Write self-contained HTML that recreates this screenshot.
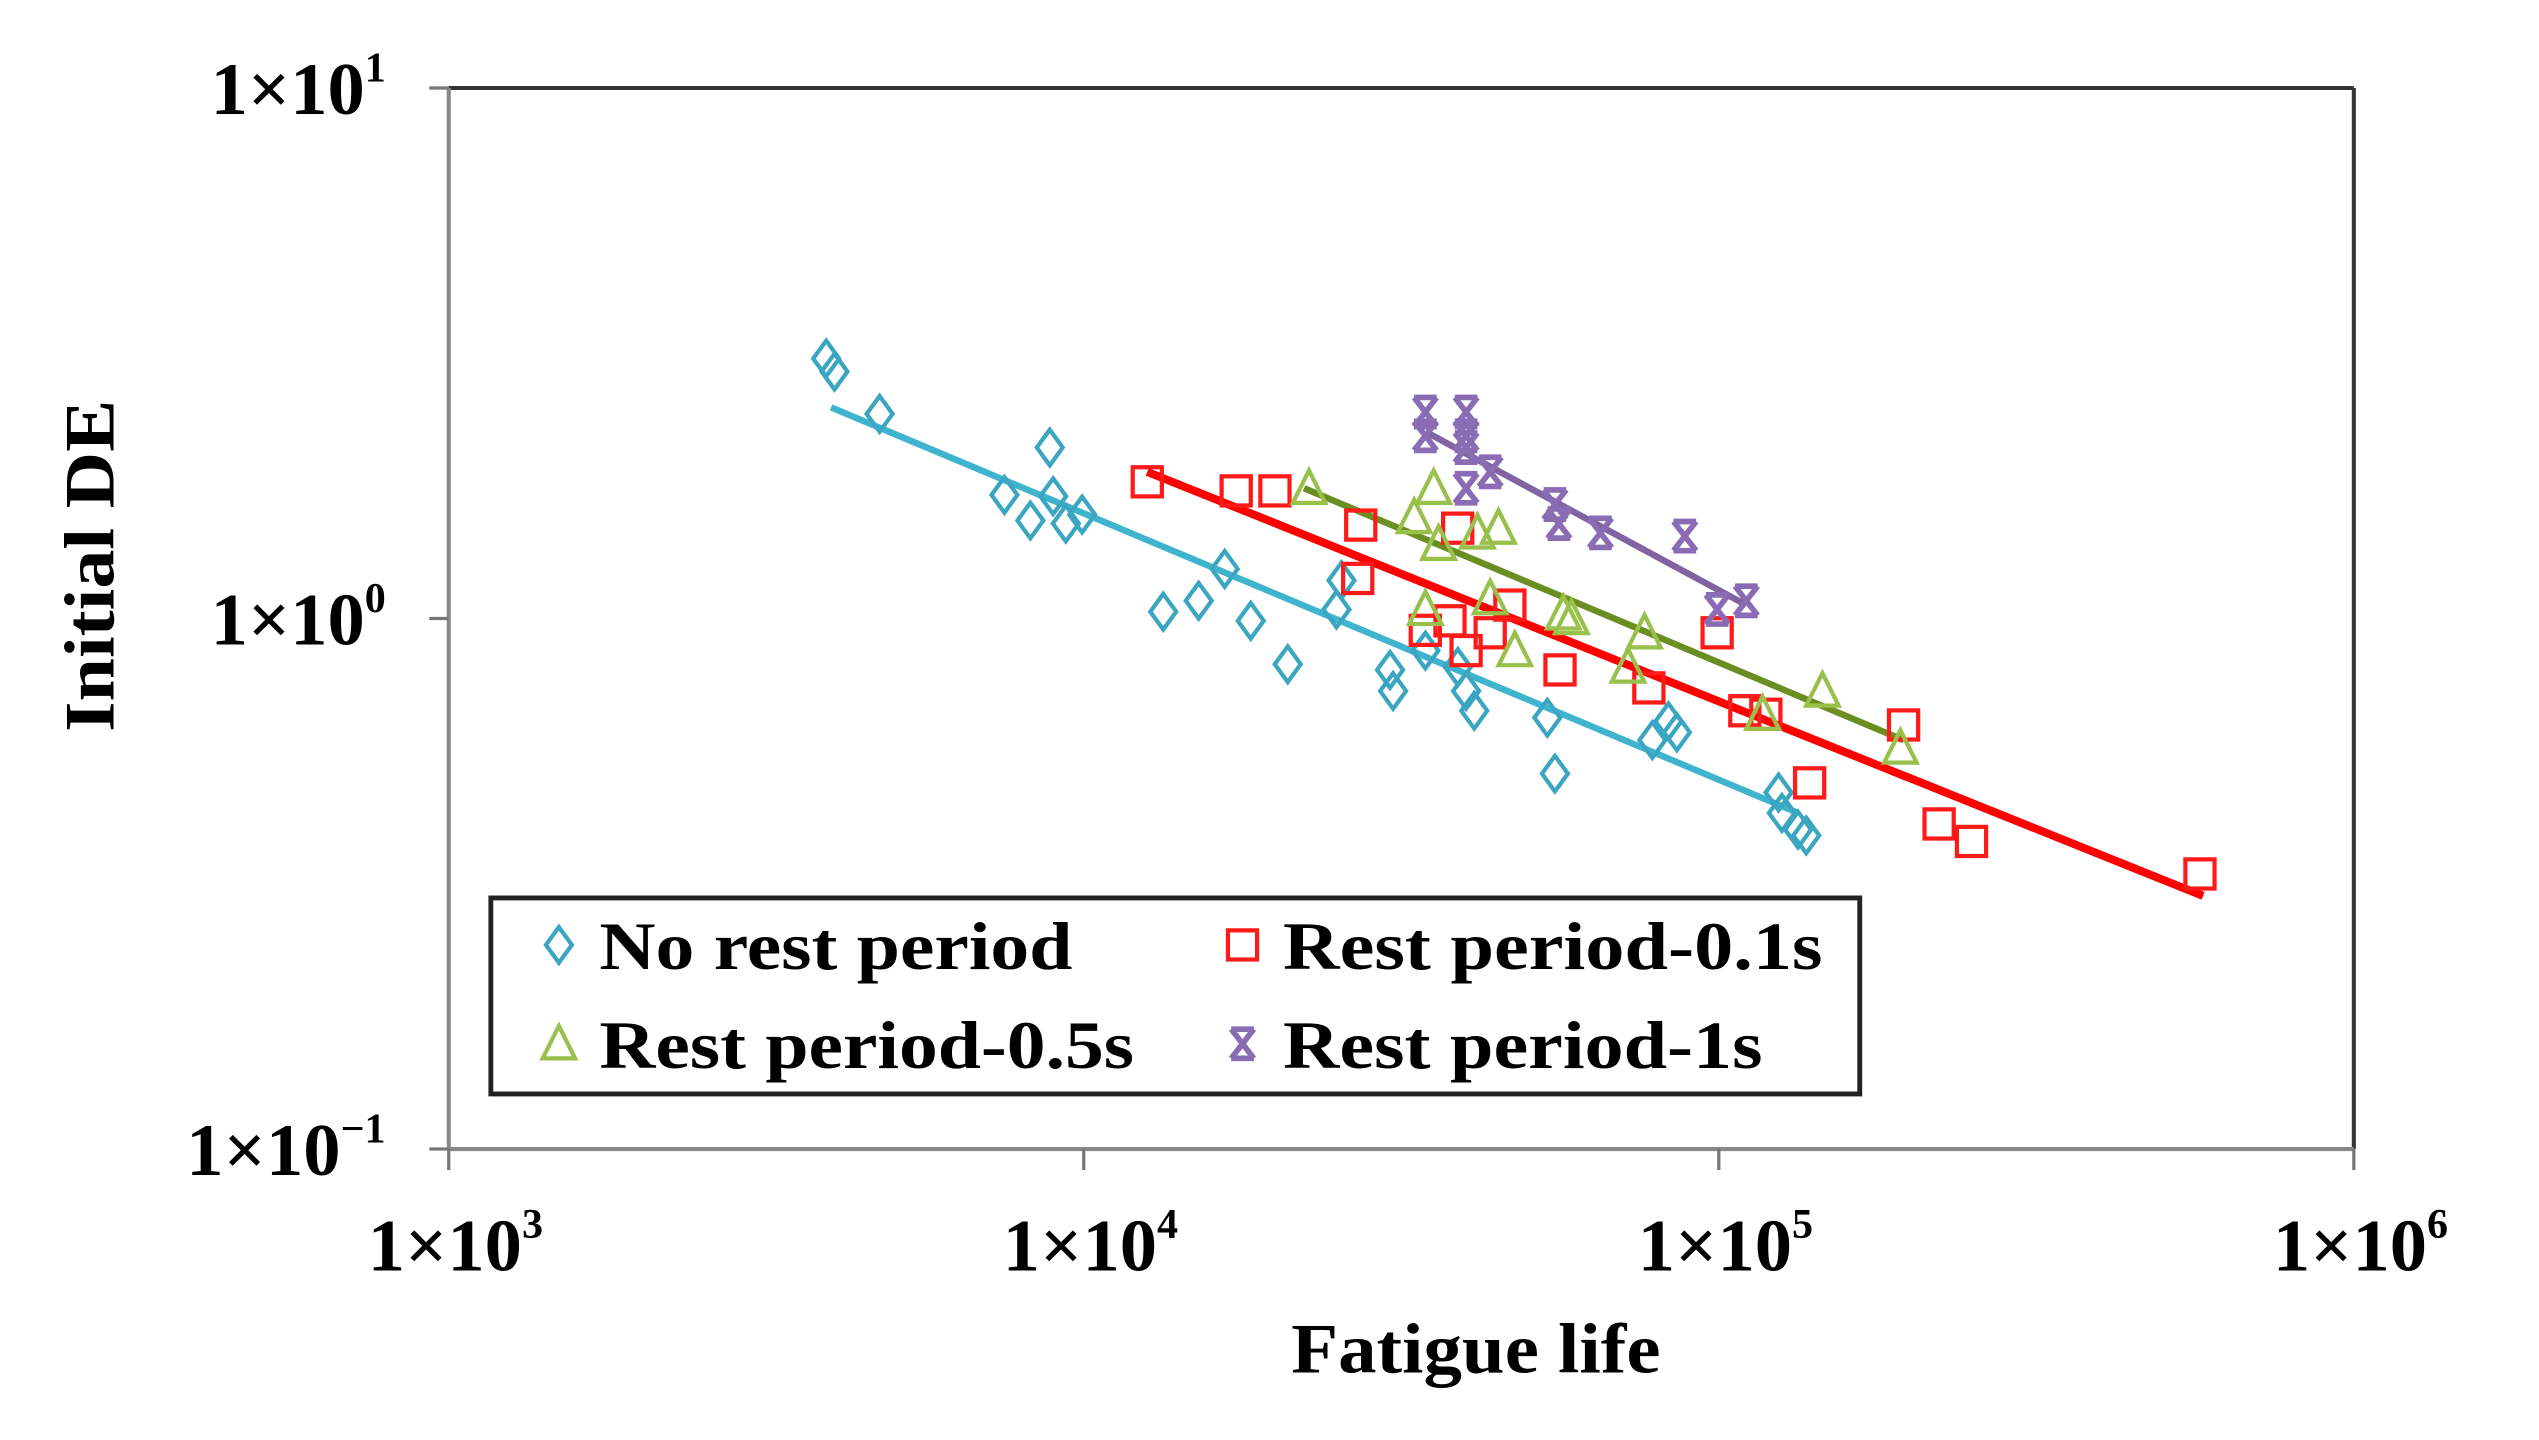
<!DOCTYPE html>
<html><head><meta charset="utf-8"><style>
html,body{margin:0;padding:0;background:#fff;}
svg{display:block;}
text{font-family:"Liberation Serif",serif;fill:#000;}
</style></head><body>
<svg id="chart" width="2539" height="1440" viewBox="0 -1.3 1567.3 888.9" preserveAspectRatio="none" xmlns="http://www.w3.org/2000/svg">
<g id="plot"></g>
</svg>
<script>
const xTicks = [1e3, 1e4, 1e5, 1e6];
const xTickExp = ["3", "4", "5", "6"];
const yTicks = [10, 1, 0.1];
const yTickExp = ["1", "0", "\u22121"];

const blueX = [3930,4050,4770,7500,8840,8240,8950,9370,9940,13340,15170,16670,18320,20950,25000,25460,30360,30700,34510,38820,40000,41200,53700,55200,78600,83300,85900,124200,125700,133300,137300];
const blueY = [3.09,2.92,2.43,1.71,2.10,1.53,1.70,1.51,1.57,1.03,1.08,1.24,0.99,0.82,1.04,1.18,0.80,0.73,0.87,0.81,0.73,0.67,0.65,0.51,0.59,0.64,0.61,0.47,0.43,0.40,0.39];
const redX = [12590,17380,20000,27300,27000,34500,37730,38800,40000,43650,46880,56230,77600,99400,109900,118600,139000,195400,222300,250000,572400];
const redY = [1.81,1.74,1.74,1.50,1.19,0.95,0.99,1.48,0.87,0.94,1.06,0.80,0.74,0.94,0.67,0.66,0.49,0.63,0.41,0.38,0.33];
const greenX = [22630,35560,33130,36200,41690,44980,43650,47730,56900,58600,71950,76380,117200,145600,193200,34510];
const greenY = [1.76,1.76,1.55,1.38,1.45,1.48,1.09,0.87,1.02,1.00,0.81,0.94,0.66,0.73,0.57,1.04];
const purpleX = [34510,34510,40000,40000,40000,40000,43650,55200,56000,65100,88400,99400,110500];
const purpleY = [2.45,2.21,2.45,2.21,2.10,1.76,1.89,1.64,1.51,1.45,1.43,1.04,1.08];
const blueFitX = [4000,133300], blueFitY = [2.50,0.43];
const redFitX = [12590,579000], redFitY = [1.89,0.30];
const greenFitX = [22230,195400], greenFitY = [1.76,0.59];
const purpleFitX = [34510,110500], purpleFitY = [2.25,1.06];

const L=277,R=1453,T=53,B=708;
function xs(v){return L+(Math.log10(v)-3)/3*(R-L);}
function ys(v){return T+(1-Math.log10(v))/2*(B-T);}
const NS="http://www.w3.org/2000/svg";
const g=document.getElementById('plot');
function mk(tag,attrs,parent){const e=document.createElementNS(NS,tag);for(const k in attrs)e.setAttribute(k,attrs[k]);(parent||g).appendChild(e);return e;}

// axes
let e;
e=mk('line',{x1:L,y1:T,x2:R,y2:T,stroke:'#333','stroke-width':2.5});


e=mk('line',{x1:R,y1:T,x2:R,y2:B,stroke:'#333','stroke-width':2.5});


e=mk('line',{x1:L,y1:T,x2:L,y2:B,stroke:'#888','stroke-width':2.5});


e=mk('line',{x1:L,y1:B,x2:R,y2:B,stroke:'#888','stroke-width':2.5});



xTicks.forEach((v,i)=>{
  const x=xs(v);
  const t=mk('line',{x1:x,y1:B,x2:x,y2:B+13,stroke:'#777','stroke-width':2});
  
  
  const tx=mk('text',{x:x-50,y:783,'font-size':46,'font-weight':'bold'});
  
  
  tx.textContent='1\u00d710';
  const s=mk('tspan',{'font-size':26,dy:-20},tx);
  s.textContent=xTickExp[i];
});
yTicks.forEach((v,i)=>{
  const y=ys(v);
  const t=mk('line',{x1:L-12,y1:y,x2:L,y2:y,stroke:'#777','stroke-width':2});
  
  
  const tx=mk('text',{x:i==2?115:130,y:y+16,'font-size':46,'font-weight':'bold'});
  
  
  tx.textContent='1\u00d710';
  const s=mk('tspan',{'font-size':26,dy:-20},tx);
  s.textContent=yTickExp[i];
});

// fit lines
function fit(fx,fy,col,w,name){
  const l=mk('line',{x1:xs(fx[0]),y1:ys(fy[0]),x2:xs(fx[1]),y2:ys(fy[1]),stroke:col,'stroke-width':w});
  
  
}
fit(blueFitX,blueFitY,'#3fb4cf',4,'trend-no-rest');
fit(redFitX,redFitY,'#ff0000',5,'trend-rest-0.1s');
fit(greenFitX,greenFitY,'#6b8e23',4,'trend-rest-0.5s');
fit(purpleFitX,purpleFitY,'#8064a2',4,'trend-rest-1s');

function diamond(x,y,p){return mk('path',{d:`M${x} ${y-11}L${x+8} ${y}L${x} ${y+11}L${x-8} ${y}Z`,fill:'none',stroke:'#3aa6c2','stroke-width':2.6},p);}
function square(x,y,p){return mk('rect',{x:x-9,y:y-9,width:18,height:18,fill:'none',stroke:'#ff1a1a','stroke-width':2.6},p);}
function tri(x,y,p){return mk('path',{d:`M${x} ${y-11}L${x+10} ${y+9}L${x-10} ${y+9}Z`,fill:'none',stroke:'#98c04a','stroke-width':2.6},p);}
function cross(x,y,p){return mk('path',{d:`M${x-7} ${y-9}L${x+7} ${y+9}M${x+7} ${y-9}L${x-7} ${y+9}M${x-7} ${y-9}H${x+7}M${x-7} ${y+9}H${x+7}`,fill:'none',stroke:'#8a6cb4','stroke-width':3.5},p);}

blueX.forEach((v,i)=>{const m=diamond(xs(v),ys(blueY[i]));

});
redX.forEach((v,i)=>{const m=square(xs(v),ys(redY[i]));

});
greenX.forEach((v,i)=>{const m=tri(xs(v),ys(greenY[i]));

});
purpleX.forEach((v,i)=>{const m=cross(xs(v),ys(purpleY[i]));

});

// legend
const lg=mk('g',{});


mk('rect',{x:303,y:553,width:845,height:121,fill:'#fff',stroke:'#222','stroke-width':3},lg);
const items=[[345,582,370,597,'No rest period',292,diamond],[767,582,792,597,'Rest period-0.1s',333,square],[345,643,370,658,'Rest period-0.5s',330,tri],[767,643,792,658,'Rest period-1s',296,cross]];
items.forEach(it=>{
  const m=it[6](it[0],it[1],lg);
  
  
  const t=mk('text',{x:it[2],y:it[3],'font-size':42,'font-weight':'bold',textLength:it[5],lengthAdjust:'spacingAndGlyphs'},lg);
  
  
  t.textContent=it[4];
});

// axis titles
const xt=mk('text',{x:797,y:846,'font-size':44,'font-weight':'bold',textLength:228,lengthAdjust:'spacingAndGlyphs'});


xt.textContent='Fatigue life';
const yt=mk('text',{x:0,y:0,'font-size':44,'font-weight':'bold','text-anchor':'middle',transform:'translate(70,348) rotate(-90)',textLength:205,lengthAdjust:'spacingAndGlyphs'});


yt.textContent='Initial DE';
</script>
</body></html>
